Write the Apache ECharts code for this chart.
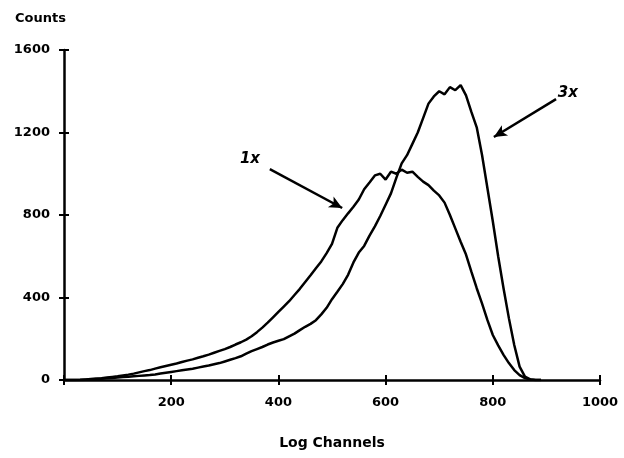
<!DOCTYPE html>
<html>
<head>
<meta charset="utf-8">
<script src="https://cdn.jsdelivr.net/npm/echarts@6/dist/echarts.min.js"></script>
<style>
html,body{margin:0;padding:0;background:#fff;}
#chart{width:624px;height:458px;}
</style>
</head>
<body>
<div id="chart"></div>
<script>
// Log channels (x positions of samples)
var channels = [0,10,20,30,40,50,60,70,80,90,100,110,120,130,140,150,160,170,180,190,
  200,210,220,230,240,250,260,270,280,290,300,310,320,330,340,350,360,370,380,390,
  400,410,420,430,440,450,460,470,480,490,500,510,520,530,540,550,560,570,580,590,
  600,610,620,630,640,650,660,670,680,690,700,710,720,730,740,750,760,770,780,790,
  800,810,820,830,840,850,860,870,880,890];

var counts1x = [0,0,0,1,3,5,7,9,12,15,18,22,26,31,37,43,48,55,62,68,
  74,80,87,94,100,108,115,123,132,141,150,160,172,183,196,212,232,254,278,304,
  330,356,382,412,442,475,508,542,575,615,660,738,775,808,840,875,925,958,992,1000,
  972,1010,1000,1020,1005,1010,985,962,945,918,895,860,800,735,670,608,525,445,370,290,
  218,168,122,82,48,24,9,2,0,0];

var counts3x = [0,0,0,0,1,2,4,6,8,10,12,14,16,18,20,22,24,27,31,35,
  39,43,47,51,55,60,65,70,76,82,90,98,106,115,128,140,150,160,172,182,
  190,198,212,225,242,258,272,290,318,350,392,428,465,510,570,618,650,700,745,795,
  850,905,980,1050,1090,1145,1200,1270,1340,1375,1400,1385,1420,1405,1430,1380,1300,1225,1090,930,
  770,600,445,300,170,65,16,3,0,0];

var xTicks = [0,200,400,600,800,1000];
var yTicks = [0,400,800,1200,1600];

var pairs1x = channels.map(function(c,i){return [c, counts1x[i]];});
var pairs3x = channels.map(function(c,i){return [c, counts3x[i]];});

var FONT = 'DejaVu Sans';
var chart = echarts.init(document.getElementById('chart'), null, {renderer:'canvas'});

function annot(text, at, from, to) {
  return {
    markPoint: {
      symbol: 'circle', symbolSize: 0, silent: true,
      data: [{coord: at, value: text}],
      label: {show:true, position:'inside', formatter: text, color:'#000',
        fontFamily: FONT, fontWeight:'bold', fontStyle:'italic', fontSize:15}
    },
    markLine: {
      silent: true, animation:false,
      symbol: ['none','arrow'], symbolSize: [9,13],
      lineStyle: {color:'#000', width:2.5, type:'solid'},
      label: {show:false},
      data: [[{coord: from}, {coord: to}]]
    }
  };
}

var a1 = annot('1x', [347,1072], [384,1022], [519,834]);
var a3 = annot('3x', [940,1391], [918,1362], [802,1178]);

var axisText = {color:'#000', fontFamily: FONT, fontWeight:'bold', fontSize:13};

chart.setOption({
  animation: false,
  backgroundColor: '#fff',
  grid: {left:64, right:24, top:50, bottom:78, containLabel:false},
  title: {
    text: 'Counts', left: 10, top: 7,
    textStyle: {color:'#000', fontFamily: FONT, fontWeight:'bold', fontSize:13}
  },
  xAxis: [{
    type:'value', min:0, max:1000, interval:200,
    name:'Log Channels', nameLocation:'middle', nameGap:56,
    nameTextStyle: {color:'#000', fontFamily: FONT, fontWeight:'bold', fontSize:14},
    axisLine: {show:true, lineStyle:{color:'#000', width:2.5}},
    axisTick: {show:true, length:5, lineStyle:{color:'#000', width:2}},
    axisLabel: Object.assign({margin:16, formatter:function(v){return v===0?'':String(v);}}, axisText),
    splitLine: {show:false}
  },{
    type:'value', min:0, max:1000, interval:200, position:'bottom',
    axisLine: {show:false},
    axisTick: {show:true, inside:true, length:5, lineStyle:{color:'#000', width:2}},
    axisLabel: {show:false}, splitLine:{show:false}
  }],
  yAxis: [{
    type:'value', min:0, max:1600, interval:400,
    axisLine: {show:true, lineStyle:{color:'#000', width:2.5}},
    axisTick: {show:true, length:5, lineStyle:{color:'#000', width:2}},
    axisLabel: Object.assign({margin:14, formatter:function(v){return String(v);}}, axisText),
    splitLine: {show:false}
  },{
    type:'value', min:0, max:1600, interval:400, position:'left',
    axisLine: {show:false},
    axisTick: {show:true, inside:true, length:5, lineStyle:{color:'#000', width:2}},
    axisLabel: {show:false}, splitLine:{show:false}
  }],
  series: [
    Object.assign({
      name:'1x', type:'line', data: pairs1x, showSymbol:false, smooth:false,
      lineStyle:{color:'#000', width:2.5}, itemStyle:{color:'#000'}, z:3
    }, a1),
    Object.assign({
      name:'3x', type:'line', data: pairs3x, showSymbol:false, smooth:false,
      lineStyle:{color:'#000', width:2.5}, itemStyle:{color:'#000'}, z:3
    }, a3)
  ]
});
</script>
</body>
</html>
